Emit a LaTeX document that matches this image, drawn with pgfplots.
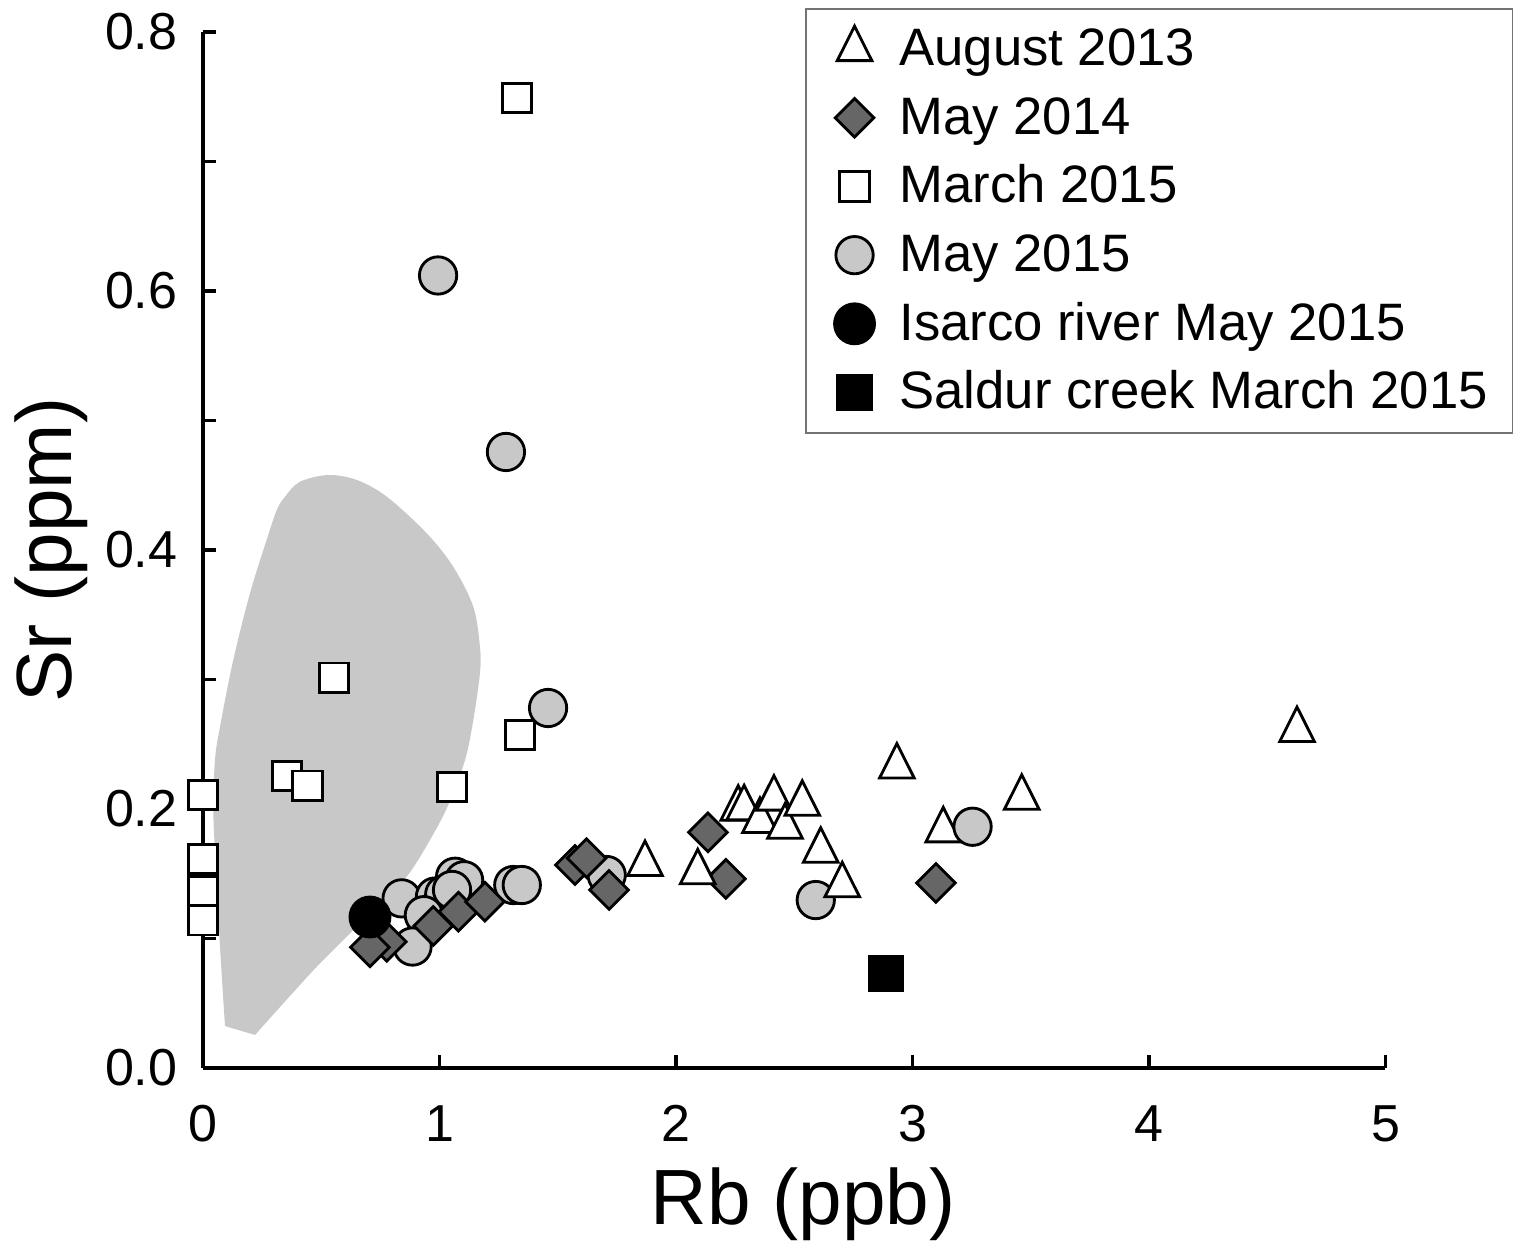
\documentclass[border=0pt]{standalone}
\usepackage{fontspec}
\setmainfont{Liberation Sans}
\usepackage{pgfplots}
\pgfplotsset{compat=1.18}

\definecolor{regiongray}{RGB}{200,200,200}
\definecolor{circlegray}{RGB}{200,200,200}
\definecolor{diamondgray}{RGB}{102,102,102}

% marker styles shared by the legend and the data
\pgfplotsset{
  aug13/.style={only marks, mark=triangle*, mark size=6pt,
    mark options={draw=black, fill=white, line width=0.85pt, yscale=1.15}},
  may14/.style={only marks, mark=square*, mark size=4.1pt,
    mark options={draw=black, fill=diamondgray, line width=0.85pt, rotate=45}},
  mar15/.style={only marks, mark=square*, mark size=4.4pt,
    mark options={draw=black, fill=white, line width=0.85pt}},
  may15/.style={only marks, mark=*, mark size=5.6pt,
    mark options={draw=black, fill=circlegray, line width=0.85pt}},
  isarco/.style={only marks, mark=*, mark size=6pt,
    mark options={draw=black, fill=black, line width=0.85pt}},
  saldur/.style={only marks, mark=square*, mark size=5.3pt,
    mark options={draw=black, fill=black, line width=0.4pt}},
}

\begin{document}
\begin{tikzpicture}
\path[use as bounding box] (-60.9pt,-54pt) rectangle (396.6pt,320.4pt);
\begin{axis}[
  scale only axis, width=354.75pt, height=310.8pt,
  xmin=0, xmax=5, ymin=0, ymax=0.8,
  clip=false,
  axis lines=left, axis line style={-, line width=0.95pt},
  tick align=inside, major tick length=4pt, minor tick length=4pt,
  tick style={black, line width=0.95pt},
  xtick={0,1,2,3,4,5}, ytick={0,0.2,0.4,0.6,0.8},
  minor ytick={0.1,0.3,0.5,0.7},
  /pgf/number format/assume math mode=true,
  tick label style={font=\fontsize{15.6pt}{18pt}\selectfont, inner sep=0pt},
  yticklabel style={/pgf/number format/.cd, fixed, fixed zerofill, precision=1},
  xticklabel shift=11.1pt, yticklabel shift=7.5pt,
  xlabel={Rb (ppb)}, ylabel={Sr (ppm)},
  label style={font=\fontsize{23.5pt}{28pt}\selectfont},
  xlabel style={at={(axis description cs:0.5076,-0.1515)}, anchor=base},
  ylabel style={at={(axis description cs:-0.1108,0.5)}, anchor=base},
  legend cell align=left,
  legend image code/.code={\path (-7pt,0pt) (7pt,0pt); \draw[#1] plot coordinates {(0pt,0pt)};},
  legend style={at={(0.509,1.0232)}, anchor=north west,
    draw=black!55, line width=0.5pt, fill=white,
    font=\fontsize{15.8pt}{18pt}\selectfont,
    inner xsep=7.4pt, inner ysep=3.8pt, row sep=4pt, column sep=6.2pt,
    nodes={inner sep=0pt, text height=13.2pt, text depth=3.4pt}},
]

% legend entries
\addlegendimage{aug13}\addlegendentry{August 2013}
\addlegendimage{may14}\addlegendentry{May 2014}
\addlegendimage{mar15}\addlegendentry{March 2015}
\addlegendimage{may15}\addlegendentry{May 2015}
\addlegendimage{isarco}\addlegendentry{Isarco river May 2015}
\addlegendimage{saldur}\addlegendentry{Saldur creek March 2015}

% shaded field
\addplot[fill=regiongray, draw=none, smooth, tension=0.55, forget plot] coordinates {
  (0.093,0.0324) (0.072,0.0937) (0.058,0.1452) (0.0436,0.1967) (0.0507,0.2378)
  (0.072,0.2636) (0.128,0.3151) (0.199,0.3668) (0.269,0.4077) (0.312,0.4309)
  (0.347,0.4412) (0.410,0.4527) (0.530,0.4579) (0.650,0.4541) (0.777,0.4412)
  (0.946,0.4129) (1.058,0.3871) (1.143,0.3562) (1.171,0.3253) (1.171,0.3048)
  (1.143,0.2687) (1.108,0.2378) (1.037,0.2031) (0.960,0.1761) (0.861,0.1477)
  (0.734,0.1246) (0.608,0.1014) (0.481,0.0782) (0.340,0.0500) (0.220,0.0255)
} -- cycle;

% March 2015
\addplot[mar15, forget plot] coordinates {
  (0,0.211) (0,0.1615) (0,0.127) (0,0.1365) (0,0.114)
  (0.355,0.2255) (0.442,0.218) (0.553,0.3014) (1.053,0.217)
  (1.340,0.257) (1.328,0.749)
};

% May 2015
\addplot[may15, forget plot] coordinates {
  (0.840,0.131) (0.981,0.1324) (1.02,0.134) (0.934,0.118) (0.886,0.0938)
  (1.066,0.1477) (1.104,0.145) (1.053,0.1375) (1.312,0.1413) (1.348,0.1413)
  (1.707,0.149) (0.994,0.612) (1.281,0.4757) (1.459,0.278) (2.591,0.1297)
};

% May 2014
\addplot[may14, forget plot] coordinates {
  (0.777,0.0975) (0.706,0.0932) (0.974,0.1097) (1.080,0.1207) (1.192,0.1284)
  (1.573,0.1568) (1.622,0.162) (1.717,0.1375) (2.135,0.182) (2.211,0.146)
  (3.099,0.1429)
};

% August 2013
\addplot[aug13, forget plot] coordinates {
  (1.869,0.1575) (2.092,0.1512) (2.263,0.2002) (2.288,0.2005) (2.355,0.1908)
  (2.414,0.208) (2.461,0.1863) (2.534,0.204) (2.612,0.1678) (2.703,0.1411)
  (2.934,0.2328) (3.130,0.1835) (3.462,0.2087) (4.626,0.261)
};

% May 2015, point lying over a triangle
\addplot[may15, forget plot] coordinates {(3.254,0.1863)};

% Isarco river May 2015
\addplot[isarco, forget plot] coordinates {(0.706,0.1166)};

% Saldur creek March 2015
\addplot[saldur, forget plot] coordinates {(2.888,0.0731)};

\end{axis}
\end{tikzpicture}
\end{document}
